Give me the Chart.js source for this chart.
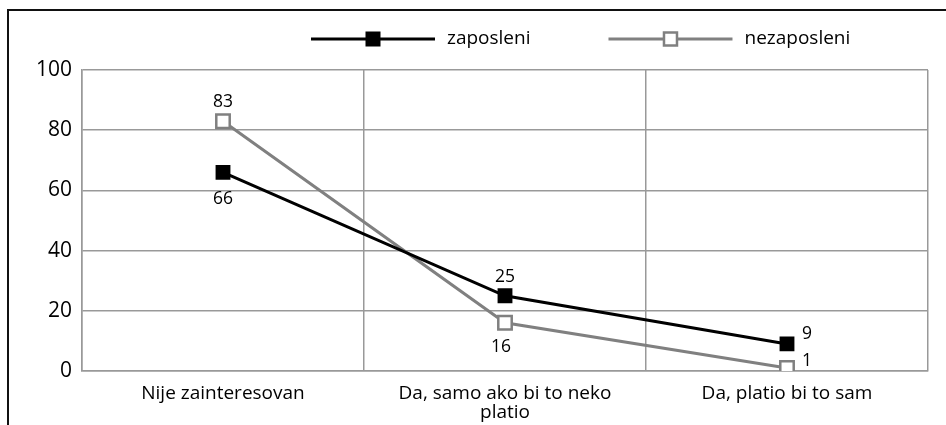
<!DOCTYPE html>
<html>
<head>
<meta charset="utf-8">
<style>
  html, body { margin: 0; padding: 0; background: #fff; }
  #wrap { position: relative; width: 946px; height: 425px; }
  #frame { position: absolute; left: 7px; top: 9px; right: 0; bottom: 0;
           border-top: 2px solid #111; border-left: 2px solid #111; }
  canvas { position: absolute; left: 0; top: 0; }
</style>
</head>
<body>
<div id="wrap">
  <div id="frame"></div>
  <canvas id="chart" width="946" height="425"></canvas>
</div>

<script src="https://cdn.jsdelivr.net/npm/chart.js"></script>

<script>
  const categories = ['Nije zainteresovan', ['Da, samo ako bi to neko', 'platio'], 'Da, platio bi to sam'];
  const zaposleni = [66, 25, 9];
  const nezaposleni = [83, 16, 1];
  const yTicks = [0, 20, 40, 60, 80, 100];

  const FONT = "'Open Sans', sans-serif";
  const GRID = '#999999';

  // where each value label sits relative to its marker
  const labelSide = [['bottom', 'top', 'right'], ['top', 'bottom', 'right']];

  const valueLabels = {
    id: 'valueLabels',
    afterDatasetsDraw(chart) {
      const ctx = chart.ctx;
      ctx.save();
      ctx.font = '17.5px ' + FONT;
      ctx.fillStyle = '#000';
      ctx.textAlign = 'center';
      ctx.textBaseline = 'middle';
      chart.data.datasets.forEach((ds, i) => {
        chart.getDatasetMeta(i).data.forEach((pt, j) => {
          let x = pt.x, y = pt.y;
          const side = labelSide[i][j];
          if (side === 'top') y -= 19;
          if (side === 'bottom') { y += (i === 1 ? 24 : 27); x -= (i === 1 ? 4 : 0); }
          if (side === 'right') { x += 20; y -= (i === 1 ? 6.5 : 9.5); }
          ctx.fillText(String(ds.data[j]), x, y);
        });
      });
      ctx.restore();
    }
  };

  // legend drawn as line-with-marker like the original
  const lineLegend = {
    id: 'lineLegend',
    afterDraw(chart) {
      const ctx = chart.ctx;
      const y = 39, lineLen = 124;
      let x = 311;
      ctx.save();
      ctx.font = '19px ' + FONT;
      ctx.textBaseline = 'middle';
      chart.data.datasets.forEach(ds => {
        ctx.strokeStyle = ds.borderColor;
        ctx.lineWidth = ds.borderWidth;
        ctx.beginPath();
        ctx.moveTo(x, y);
        ctx.lineTo(x + lineLen, y);
        ctx.stroke();
        const s = 15, cx = x + lineLen / 2;
        ctx.fillStyle = ds.pointBackgroundColor;
        ctx.fillRect(cx - s / 2, y - s / 2, s, s);
        if (ds.pointBorderWidth) {
          ctx.lineWidth = ds.pointBorderWidth;
          ctx.strokeStyle = ds.pointBorderColor;
          ctx.strokeRect(cx - s / 2 + 1, y - s / 2 + 1, s - 2, s - 2);
        }
        ctx.fillStyle = '#000';
        ctx.fillText(ds.label, x + lineLen + 12, y);
        x += lineLen + 12 + ctx.measureText(ds.label).width + 78;
      });
      ctx.restore();
    }
  };

  new Chart(document.getElementById('chart'), {
    type: 'line',
    data: {
      labels: categories,
      datasets: [
        {
          label: 'zaposleni',
          data: zaposleni,
          borderColor: '#000000',
          borderWidth: 3,
          pointStyle: 'rect',
          pointRadius: 10.5,
          pointBackgroundColor: '#000000',
          pointBorderColor: '#000000',
          pointBorderWidth: 0
        },
        {
          label: 'nezaposleni',
          data: nezaposleni,
          borderColor: '#808080',
          borderWidth: 3,
          pointStyle: 'rect',
          pointRadius: 9.5,
          pointBackgroundColor: '#ffffff',
          pointBorderColor: '#808080',
          pointBorderWidth: 2.5
        }
      ]
    },
    options: {
      responsive: false,
      animation: false,
      layout: { padding: { top: 70, right: 18, left: 0, bottom: 0 } },
      plugins: {
        legend: { display: false },
        tooltip: { enabled: false }
      },
      scales: {
        x: {
          offset: true,
          grid: { offset: true, color: GRID, lineWidth: 1.5, drawTicks: false },
          border: { color: GRID, width: 1.5 },
          ticks: { color: '#000', font: { family: FONT, size: 19, lineHeight: 1.0 }, padding: 13, maxRotation: 0, autoSkip: false },
          afterFit(scale) { scale.height = 54; }
        },
        y: {
          min: 0,
          max: 100,
          afterBuildTicks(scale) { scale.ticks = yTicks.map(v => ({ value: v })); },
          grid: { color: GRID, lineWidth: 1.5, drawTicks: false },
          border: { color: GRID, width: 1.5 },
          ticks: { color: '#000', font: { family: FONT, size: 21 }, padding: 10 },
          afterFit(scale) { scale.width = 82; }
        }
      }
    },
    plugins: [valueLabels, lineLegend]
  });
</script>
</body>
</html>
